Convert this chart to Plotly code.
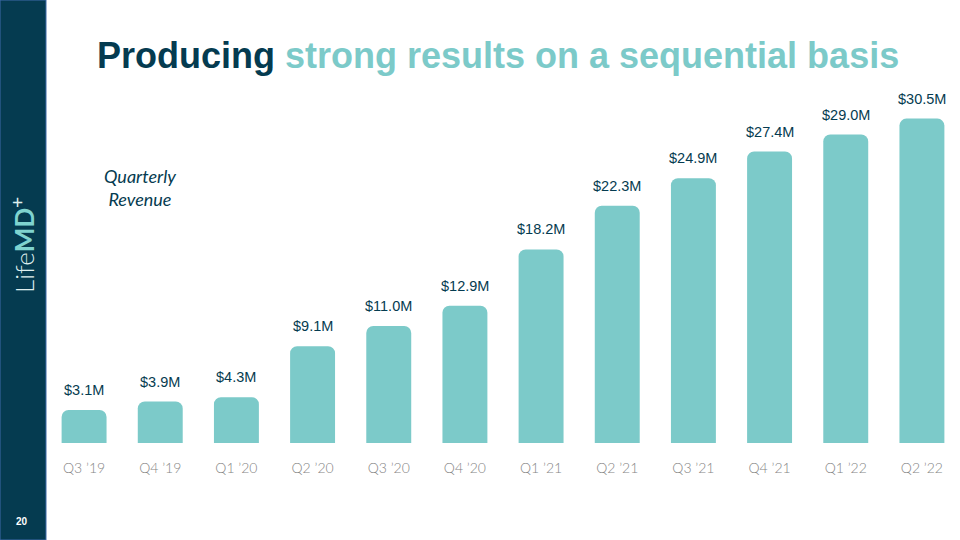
import plotly.graph_objects as go

quarters = ["Q3 '19", "Q4 '19", "Q1 '20", "Q2 '20", "Q3 '20", "Q4 '20",
            "Q1 '21", "Q2 '21", "Q3 '21", "Q4 '21", "Q1 '22", "Q2 '22"]
revenue = [3.1, 3.9, 4.3, 9.1, 11.0, 12.9, 18.2, 22.3, 24.9, 27.4, 29.0, 30.5]
labels = ["$3.1M", "$3.9M", "$4.3M", "$9.1M", "$11.0M", "$12.9M",
          "$18.2M", "$22.3M", "$24.9M", "$27.4M", "$29.0M", "$30.5M"]
tick_labels = ["Q3 \u201919", "Q4 \u201919", "Q1 \u201920", "Q2 \u201920", "Q3 \u201920", "Q4 \u201920",
               "Q1 \u201921", "Q2 \u201921", "Q3 \u201921", "Q4 \u201921", "Q1 \u201922", "Q2 \u201922"]

NAVY = "#053b50"
TEAL = "#7ccac9"

fig = go.Figure()
fig.add_trace(go.Bar(
    x=quarters, y=revenue,
    marker=dict(color=TEAL, cornerradius=7, line=dict(width=0)),
    hoverinfo="skip",
))

value_annotations = [
    dict(x=q, y=v, xref="x", yref="y", text=t, showarrow=False,
         xanchor="center", yanchor="middle", yshift=20,
         font=dict(family="Liberation Sans, Arial", size=14.5, color=NAVY))
    for q, v, t in zip(quarters, revenue, labels)
]

fig.update_layout(
    width=960, height=540,
    margin=dict(l=46, r=0, t=92, b=97),
    paper_bgcolor="white", plot_bgcolor="white",
    bargap=0.41, showlegend=False,
    xaxis=dict(tickvals=quarters, ticktext=tick_labels, showgrid=False, zeroline=False,
               showline=False, ticks="", ticklabelstandoff=15,
               tickfont=dict(family="Lato Light, Lato, Open Sans", size=14, color="#858585")),
    yaxis=dict(range=[0, 33], visible=False, showgrid=False, zeroline=False),
    shapes=[
        dict(type="rect", xref="paper", yref="paper", x0=-46/914, x1=0, y0=-97/351, y1=1+92/351,
             fillcolor=NAVY, line=dict(color="#3e6aa8", width=1), layer="above"),
    ],
    annotations=value_annotations + [
        dict(xref="paper", yref="paper", x=(497.5-46)/914, y=(540-56-97)/351, showarrow=False,
             xanchor="center", yanchor="middle",
             text=f"<b><span style='color:{NAVY}'>Producing</span> <span style='color:{TEAL}'>strong results on a sequential basis</span></b>",
             font=dict(family="Liberation Sans, Arial", size=36)),
        dict(xref="paper", yref="paper", x=(140-46)/914, y=(540-187-97)/351, showarrow=False,
             xanchor="center", yanchor="middle", align="center",
             text="<i>Quarterly<br>Revenue</i>",
             font=dict(family="Lato, Open Sans", size=18, color=NAVY)),
        dict(xref="paper", yref="paper", x=(22-46)/914, y=(540-245-97)/351, showarrow=False,
             xanchor="center", yanchor="middle", textangle=-90,
             text="<span style='color:#dfeeee'>Life</span><span style='color:#7fd3cf;font-family:Lato;font-weight:bold'>MD</span><sup><span style='color:#dfeeee;font-weight:bold'>+</span></sup>",
             font=dict(family="Lato Light, Lato, Open Sans", size=26)),
        dict(xref="paper", yref="paper", x=(22-46)/914, y=(540-521-97)/351, showarrow=False,
             xanchor="center", yanchor="middle",
             text="<b>20</b>", font=dict(family="Liberation Sans, Arial", size=10, color="white")),
    ],
)

fig.write_html("out.html", config={"displayModeBar": False},
               post_script="document.body.style.margin='0';document.body.style.padding='0';")
